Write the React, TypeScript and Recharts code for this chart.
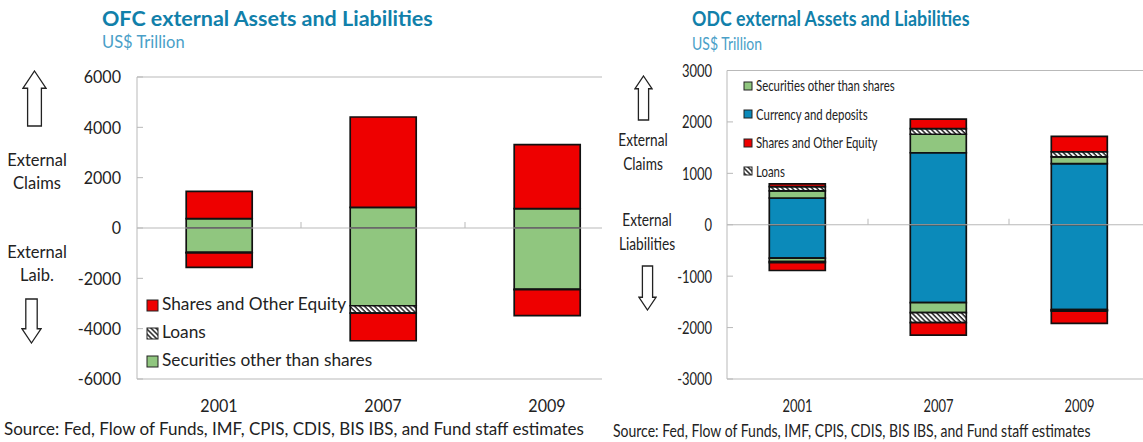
import { BarChart, Bar, XAxis, YAxis, ReferenceLine } from "recharts";

const categories = ["2001", "2007", "2009"];

// OFC panel, positive and negative side of each stack
const ofcSecuritiesUp = [370, 820, 770];
const ofcSharesUp = [1085, 3590, 2540];
const ofcSecuritiesDown = [-970, -3090, -2440];
const ofcLoansDown = [-20, -290, -10];
const ofcSharesDown = [-575, -1100, -1035];
const ofcTicks = [6000, 4000, 2000, 0, -2000, -4000, -6000];

// ODC panel
const odcCurrencyUp = [520, 1400, 1190];
const odcSecuritiesUp = [140, 360, 130];
const odcLoansUp = [80, 110, 100];
const odcSharesUp = [55, 185, 300];
const odcCurrencyDown = [-650, -1515, -1650];
const odcSecuritiesDown = [-65, -195, -10];
const odcLoansDown = [-20, -195, -20];
const odcSharesDown = [-155, -240, -240];
const odcTicks = [3000, 2000, 1000, 0, -1000, -2000, -3000];

const RED = "#ee0000";
const GREEN = "#90c67f";
const BLUE = "#0b8aba";
const GREY = "#b9b9b9";
const TITLE = "#1180aa";
const SUB = "#4aa0c8";
const FONT = "Lato, 'Open Sans', sans-serif";

const ofcRows = categories.map((c, i) => ({
  year: c,
  secUp: ofcSecuritiesUp[i],
  shaUp: ofcSharesUp[i],
  secDown: ofcSecuritiesDown[i],
  loaDown: ofcLoansDown[i],
  shaDown: ofcSharesDown[i],
}));

const odcRows = categories.map((c, i) => ({
  year: c,
  curUp: odcCurrencyUp[i],
  secUp: odcSecuritiesUp[i],
  loaUp: odcLoansUp[i],
  shaUp: odcSharesUp[i],
  curDown: odcCurrencyDown[i],
  secDown: odcSecuritiesDown[i],
  loaDown: odcLoansDown[i],
  shaDown: odcSharesDown[i],
}));

const ofcSeries = [
  { key: "secUp", fill: GREEN },
  { key: "shaUp", fill: RED },
  { key: "secDown", fill: GREEN },
  { key: "loaDown", fill: "url(#hatch)" },
  { key: "shaDown", fill: RED },
];

const odcSeries = [
  { key: "curUp", fill: BLUE },
  { key: "secUp", fill: GREEN },
  { key: "loaUp", fill: "url(#hatch)" },
  { key: "shaUp", fill: RED },
  { key: "curDown", fill: BLUE },
  { key: "secDown", fill: GREEN },
  { key: "loaDown", fill: "url(#hatch)" },
  { key: "shaDown", fill: RED },
];

// y labels plus the short inward tick; the 0 tick also carries the category separators
const YTick = ({ x, y, payload, fontSize, gap, sx, band }: any) => (
  <g>
    <line x1={x} x2={x + 6} y1={y} y2={y} stroke={GREY} />
    {payload.value === 0 &&
      [1, 2].map((k) => <line key={k} x1={x + band * k} x2={x + band * k} y1={y} y2={y - 6} stroke={GREY} />)}
    <text
      transform={`translate(${x - gap},${y + fontSize * 0.36}) scale(${sx},1)`}
      textAnchor="end"
      fontSize={fontSize}
      fill="#222"
      fontFamily={FONT}
    >
      {payload.value}
    </text>
  </g>
);

const XTick = ({ x, y, payload, fontSize, dy, sx }: any) => (
  <text
    transform={`translate(${x},${y + dy}) scale(${sx},1)`}
    textAnchor="middle"
    fontSize={fontSize}
    fill="#222"
    fontFamily={FONT}
  >
    {payload.value}
  </text>
);

function Panel({ rows, series, ticks, width, plotLeft, plotRight, top, fontSize, gap, sx }: any) {
  const band = (plotRight - plotLeft) / categories.length;
  return (
    <BarChart
      width={width}
      height={442}
      data={rows}
      stackOffset="sign"
      barCategoryGap="30%"
      margin={{ top, right: width - plotRight, left: 0, bottom: 0 }}
    >
      <defs>
        <pattern id="hatch" width="3.5" height="3.5" patternUnits="userSpaceOnUse" patternTransform="rotate(45)">
          <rect width="3.5" height="3.5" fill="#fff" />
          <rect width="3.5" height="1.5" fill="#222" />
        </pattern>
      </defs>
      <XAxis
        dataKey="year"
        height={63}
        axisLine={{ stroke: GREY }}
        tickLine={false}
        tick={<XTick fontSize={fontSize} dy={25} sx={sx} />}
      />
      <YAxis
        width={plotLeft}
        domain={[ticks[ticks.length - 1], ticks[0]]}
        ticks={ticks}
        interval={0}
        tickSize={0}
        tickMargin={0}
        axisLine={{ stroke: GREY }}
        tickLine={false}
        tick={<YTick fontSize={fontSize} gap={gap} sx={sx} band={band} />}
      />
      <ReferenceLine y={ticks[0]} stroke={GREY} />
      {series.map((s: any) => (
        <Bar key={s.key} dataKey={s.key} stackId="a" fill={s.fill} stroke="#111" strokeWidth={1.7} isAnimationActive={false} />
      ))}
      <ReferenceLine y={0} stroke={GREY} />
    </BarChart>
  );
}

const Txt = ({ x, y, size, color = "#222", bold, center, sx = 1, children }: any) => (
  <div
    style={{
      position: "absolute",
      left: x,
      top: y,
      fontSize: size,
      lineHeight: "20px",
      height: 20,
      marginTop: -10,
      color,
      fontWeight: bold ? 700 : 400,
      whiteSpace: "nowrap",
      transformOrigin: "0 50%",
      transform: center ? `scaleX(${sx}) translateX(-50%)` : `scaleX(${sx})`,
    }}
  >
    {children}
  </div>
);

const Arrow = ({ x, y, w, h, down }: any) => {
  const head = w * 0.75;
  const s = w * 0.3;
  const pts = `${w / 2},0 ${w},${head} ${w / 2 + s},${head} ${w / 2 + s},${h} ${w / 2 - s},${h} ${w / 2 - s},${head} 0,${head}`;
  return (
    <svg
      width={w + 2}
      height={h + 2}
      style={{ position: "absolute", left: x - w / 2 - 1, top: y - 1, transform: down ? "scaleY(-1)" : undefined }}
    >
      <polygon points={pts} transform="translate(1,1)" fill="#fff" stroke="#222" strokeWidth={1.3} />
    </svg>
  );
};

const Swatch = ({ x, y, w, fill }: any) => (
  <svg width={w + 2} height={w + 2} style={{ position: "absolute", left: x - 1, top: y - w / 2 - 1 }}>
    <defs>
      <pattern id="hatchKey" width="3.5" height="3.5" patternUnits="userSpaceOnUse" patternTransform="rotate(45)">
        <rect width="3.5" height="3.5" fill="#fff" />
        <rect width="3.5" height="1.5" fill="#222" />
      </pattern>
    </defs>
    <rect x={1} y={1} width={w} height={w} fill={fill} stroke="#222" strokeWidth={1} />
  </svg>
);

export default function App() {
  return (
    <div style={{ position: "absolute", left: 0, top: 0, width: 1143, height: 442, overflow: "hidden", background: "#fff", fontFamily: FONT }}>
      <div style={{ position: "absolute", left: 0, top: 0, width: 602, height: 442, overflow: "hidden" }}>
        <Panel rows={ofcRows} series={ofcSeries} ticks={ofcTicks} width={640} plotLeft={137} plotRight={629} top={77} fontSize={17.5} gap={16} sx={0.92} />
      </div>
      <div style={{ position: "absolute", left: 600, top: 0, width: 543, height: 442, overflow: "hidden" }}>
        <Panel rows={odcRows} series={odcSeries} ticks={odcTicks} width={560} plotLeft={127} plotRight={550} top={70.5} fontSize={18} gap={15} sx={0.72} />
      </div>

      <Txt x={102} y={18} size={21.5} color={TITLE} bold>OFC external Assets and Liabilities</Txt>
      <Txt x={102} y={42} size={16.5} color={SUB}>US$ Trillion</Txt>
      <Txt x={692} y={18} size={20} color={TITLE} bold sx={0.89}>ODC external Assets and Liabilities</Txt>
      <Txt x={692} y={44} size={17.5} color={SUB} sx={0.8}>US$ Trillion</Txt>

      <Arrow x={34} y={71} w={23} h={55} />
      <Txt x={37} y={160} size={16.5} center>External</Txt>
      <Txt x={37} y={183} size={16.5} center>Claims</Txt>
      <Txt x={37} y={252} size={16.5} center>External</Txt>
      <Txt x={37} y={275} size={16.5} center>Laib.</Txt>
      <Arrow x={31} y={299} w={19} h={44} down />

      <Arrow x={643} y={76} w={17} h={44} />
      <Txt x={643} y={139} size={18} center sx={0.76}>External</Txt>
      <Txt x={643} y={163} size={18} center sx={0.76}>Claims</Txt>
      <Txt x={647} y={219} size={18} center sx={0.76}>External</Txt>
      <Txt x={647} y={243} size={18} center sx={0.76}>Liabilities</Txt>
      <Arrow x={647} y={266} w={17} h={44} down />

      <Swatch x={147} y={305} w={11} fill={RED} />
      <Txt x={162} y={304} size={17.3}>Shares and Other Equity</Txt>
      <Swatch x={147} y={333} w={11} fill="url(#hatchKey)" />
      <Txt x={162} y={332} size={17.3}>Loans</Txt>
      <Swatch x={147} y={361} w={11} fill={GREEN} />
      <Txt x={162} y={360} size={17.3}>Securities other than shares</Txt>

      <Swatch x={744} y={86} w={8} fill={GREEN} />
      <Txt x={756} y={85} size={15} sx={0.76}>Securities other than shares</Txt>
      <Swatch x={744} y={114} w={8} fill={BLUE} />
      <Txt x={756} y={114} size={15} sx={0.76}>Currency and deposits</Txt>
      <Swatch x={744} y={143} w={8} fill={RED} />
      <Txt x={756} y={142} size={15} sx={0.76}>Shares and Other Equity</Txt>
      <Swatch x={744} y={171} w={8} fill="url(#hatchKey)" />
      <Txt x={756} y={171} size={15} sx={0.76}>Loans</Txt>

      <Txt x={4} y={429} size={17}>Source: Fed, Flow of Funds, IMF, CPIS, CDIS, BIS IBS, and Fund staff estimates</Txt>
      <Txt x={613} y={431} size={17.5} sx={0.8}>Source: Fed, Flow of Funds, IMF, CPIS, CDIS, BIS IBS, and Fund staff estimates</Txt>
    </div>
  );
}
